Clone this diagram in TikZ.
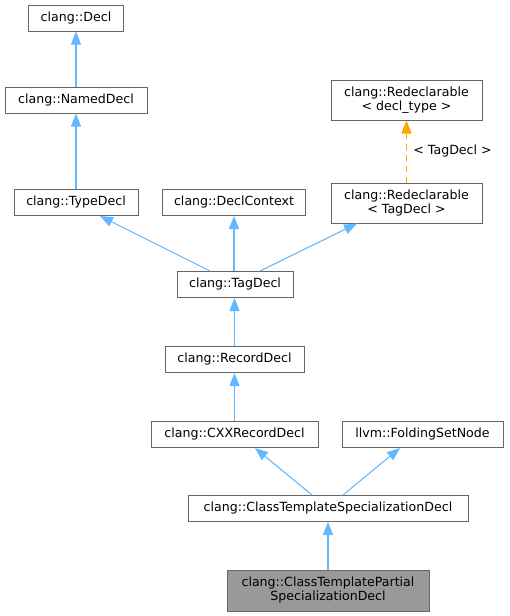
\documentclass[tikz,border=0pt]{standalone}
\usepackage{fontspec}
\setmainfont{DejaVu Sans}
\usetikzlibrary{arrows.meta}
\definecolor{edgeblue}{HTML}{63B8FF}
\definecolor{boxline}{HTML}{666666}
\definecolor{boxfill}{HTML}{999999}
\definecolor{tmplorange}{HTML}{FFA500}
\begin{document}
\begin{tikzpicture}[x=1pt,y=-1pt,
  box/.style={draw=boxline, line width=1pt, fill=white, inner sep=0pt, minimum height=26pt, align=center, font=\fontsize{12.6}{14}\selectfont},
  tall/.style={minimum height=40pt},
  edge/.style={draw=edgeblue, line width=1.1pt, -{Triangle[width=10pt,length=13pt]}},
  tedge/.style={draw=tmplorange, line width=1.1pt, dash pattern=on 6pt off 5pt, -{Triangle[width=10pt,length=13pt]}}
]
\useasboundingbox (0,0) rectangle (509,616);
\node[box, minimum width=95pt] (decl) at (76,18) {clang::Decl};
\node[box, minimum width=142pt] (named) at (76,100) {clang::NamedDecl};
\node[box, minimum width=124pt] (type) at (76,202.5) {clang::TypeDecl};
\node[box, minimum width=143pt] (ctx) at (234,202.5) {clang::DeclContext};
\node[box, tall, minimum width=151pt] (redt) at (406.5,100) {clang::Redeclarable\\\textless{} decl\_type \textgreater{}};
\node[box, tall, minimum width=151pt] (redtag) at (406.5,203) {clang::Redeclarable\\\textless{} TagDecl \textgreater{}};
\node[box, minimum width=116pt] (tag) at (235,284.5) {clang::TagDecl};
\node[box, minimum width=139pt] (record) at (234.5,359.5) {clang::RecordDecl};
\node[box, minimum width=167pt] (cxx) at (234.5,434.5) {clang::CXXRecordDecl};
\node[box, minimum width=161pt] (fsn) at (422.5,434.5) {llvm::FoldingSetNode};
\node[box, minimum width=280pt] (ctsd) at (328,508.5) {clang::ClassTemplateSpecializationDecl};
\node[box, minimum width=202pt, minimum height=41pt, fill=boxfill] (partial) at (328,590.5) {clang::ClassTemplatePartial\\SpecializationDecl};

\draw[edge] (named.north) -- (named.north |- decl.south);
\draw[edge] (type.north) -- (type.north |- named.south);
\draw[edge] ([xshift=-25pt]tag.north) -- ([xshift=24pt]type.south);
\draw[edge] ([xshift=-1pt]tag.north) -- ([xshift=-1pt]tag.north |- ctx.south);
\draw[edge] ([xshift=25pt]tag.north) -- ([xshift=-49.5pt]redtag.south);
\draw[tedge] (redtag.north) -- node[right, xshift=3pt, font=\fontsize{12.6}{14}\selectfont] (lbl) {\textless{} TagDecl \textgreater{}} (redt.south);
\draw[edge] ([xshift=-0.5pt]tag.south |- record.north) -- ([xshift=-0.5pt]tag.south);
\draw[edge] (cxx.north) -- (record.south);
\draw[edge] ([xshift=-16pt]ctsd.north) -- ([xshift=20.5pt]cxx.south);
\draw[edge] ([xshift=15pt]ctsd.north) -- ([xshift=-22.5pt]fsn.south);
\draw[edge] (partial.north) -- (ctsd.south);
\end{tikzpicture}
\end{document}
